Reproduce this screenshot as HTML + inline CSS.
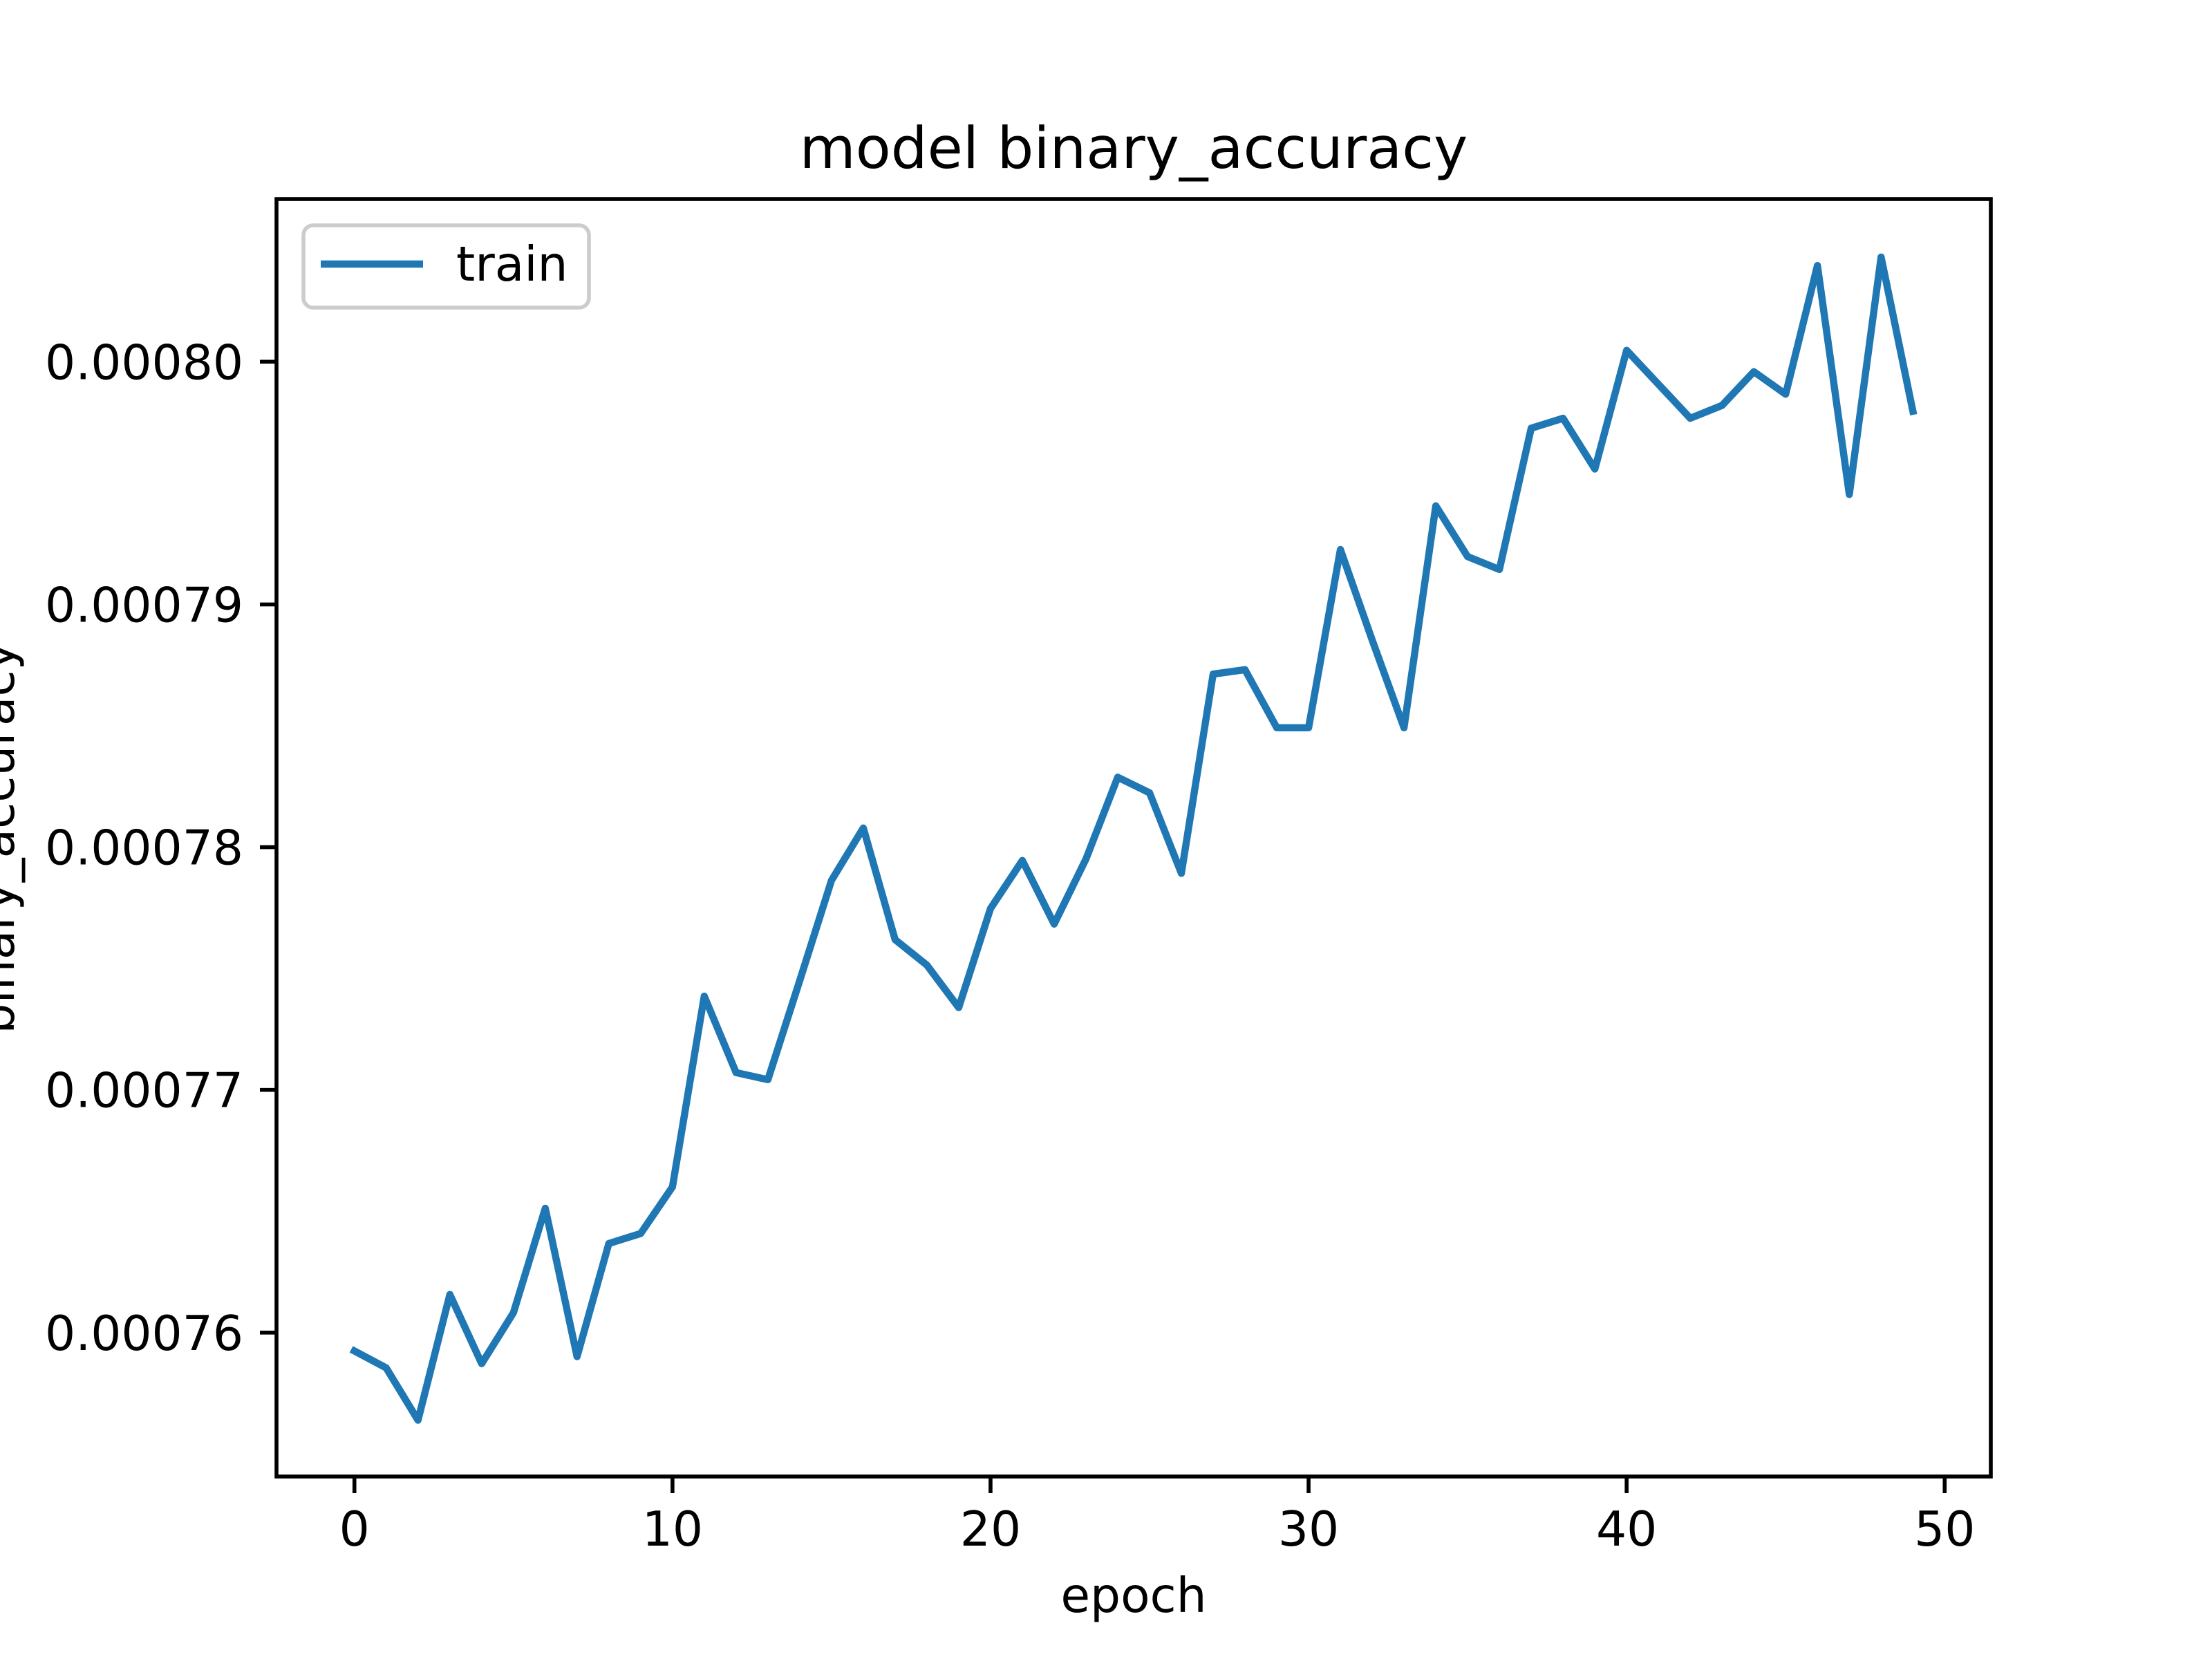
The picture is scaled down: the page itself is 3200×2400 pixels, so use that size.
<!DOCTYPE html>
<html><head><meta charset="utf-8"><style>
html,body{margin:0;padding:0;background:#fff;}
svg{display:block;font-family:"DejaVu Sans","Liberation Sans",sans-serif;}
</style></head><body>
<svg id="chart" width="3200" height="2400" viewBox="0 0 3200 2400" xmlns="http://www.w3.org/2000/svg">
<rect x="0" y="0" width="3200" height="2400" fill="#fff"/>
<g id="plot"></g>
</svg>
<script>
const epochs = [0,1,2,3,4,5,6,7,8,9,10,11,12,13,14,15,16,17,18,19,20,21,22,23,24,25,26,27,28,29,30,31,32,33,34,35,36,37,38,39,40,41,42,43,44,45,46,47,48,49];
const trainAcc = [0.000759243,0.000758544,0.00075639,0.00076157,0.00075872,0.00076082,0.00076512,0.00075901,0.00076367,0.00076408,0.00076600,0.00077386,0.00077071,0.00077042,0.00077450,0.00077863,0.00078079,0.00077619,0.00077514,0.00077339,0.00077747,0.00077945,0.00077683,0.00077951,0.00078288,0.00078224,0.00077892,0.00078713,0.00078731,0.00078492,0.00078492,0.00079226,0.00078853,0.00078492,0.00079406,0.00079197,0.00079144,0.00079726,0.00079767,0.00079558,0.00080047,0.00079907,0.00079767,0.00079820,0.00079959,0.00079866,0.00080396,0.00079453,0.00080431,0.00079796];
const xTicks = [0,10,20,30,40,50];
const yTicks = [0.00076,0.00077,0.00078,0.00079,0.00080];
const yTickLabels = ["0.00076","0.00077","0.00078","0.00079","0.00080"];

const NS="http://www.w3.org/2000/svg";
const L=400,R=2880,T=288,B=2136;
const xmin=-2.45,xmax=51.45;
const ymin=0.00075407,ymax=0.00080670;
const xs=v=>L+(v-xmin)/(xmax-xmin)*(R-L);
const ys=v=>B-(v-ymin)/(ymax-ymin)*(B-T);
const g=document.getElementById('plot');
function mk(tag,attrs,parent){const e=document.createElementNS(NS,tag);for(const k in attrs)e.setAttribute(k,attrs[k]);(parent||g).appendChild(e);return e;}

const pts=epochs.map((e,i)=>xs(e).toFixed(1)+','+ys(trainAcc[i]).toFixed(1)).join(' ');
const line=mk('polyline',{points:pts,fill:'none',stroke:'#1f77b4','stroke-width':10.4,'stroke-linejoin':'round','stroke-linecap':'square'});



const fr=mk('rect',{x:L,y:T,width:R-L,height:B-T,fill:'none',stroke:'#000','stroke-width':5.6});



xTicks.forEach(t=>{
  const x=xs(t);
  const tk=mk('line',{x1:x,x2:x,y1:B,y2:B+24,stroke:'#000','stroke-width':5.6});
  
  
  const tx=mk('text',{x:x,y:B+100,'font-size':69.4,'text-anchor':'middle',fill:'#000'});
  tx.textContent=String(t);
  
  
});
yTicks.forEach((t,i)=>{
  const y=ys(t);
  const tk=mk('line',{x1:L-24,x2:L,y1:y,y2:y,stroke:'#000','stroke-width':5.6});
  
  
  const tx=mk('text',{x:L-48,y:y+25,'font-size':69.4,'text-anchor':'end',fill:'#000'});
  tx.textContent=yTickLabels[i];
  
  
});

const ti=mk('text',{x:(L+R)/2,y:243,'font-size':83.3,'text-anchor':'middle',fill:'#000'});
ti.textContent='model binary_accuracy';


const xl=mk('text',{x:(L+R)/2,y:2332,'font-size':69.4,'text-anchor':'middle',fill:'#000'});
xl.textContent='epoch';


const yl=mk('text',{x:0,y:0,'font-size':69.4,'text-anchor':'middle',fill:'#000',transform:'translate(20,'+((T+B)/2)+') rotate(-90)'});
yl.textContent='binary_accuracy';



const lg=mk('g',{});


mk('rect',{x:439,y:326,width:413,height:119,rx:14,fill:'#fff','fill-opacity':0.8,stroke:'#ccc','stroke-width':5.6},lg);
const ll=mk('line',{x1:464,x2:612,y1:382,y2:382,stroke:'#1f77b4','stroke-width':10.4},lg);


const lt=mk('text',{x:660,y:406,'font-size':69.4,fill:'#000'},lg);
lt.textContent='train';


</script>
</body></html>
